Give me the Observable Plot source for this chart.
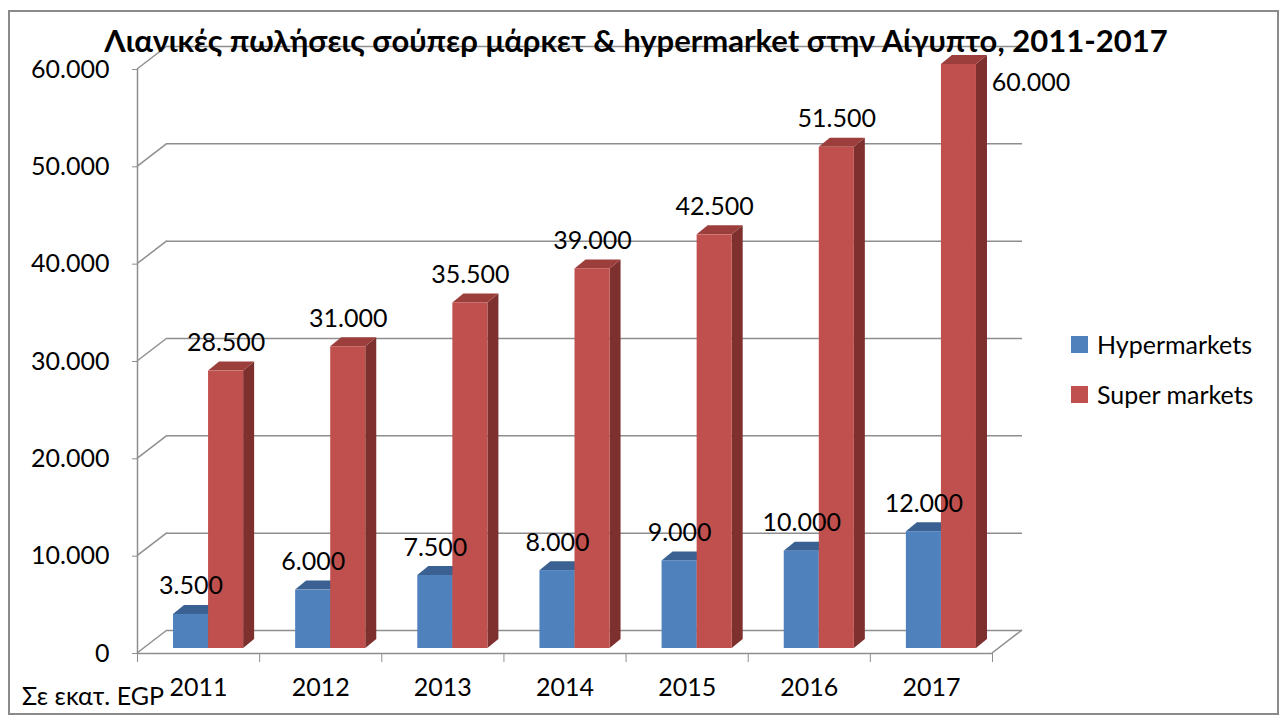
<!DOCTYPE html>
<html>
<head>
<meta charset="utf-8">
<script src="https://cdn.jsdelivr.net/npm/d3@7"></script>
<script src="https://cdn.jsdelivr.net/npm/@observablehq/plot@0.6"></script>
<style>
  body { margin: 0; background: #fff; }
  #wrap { position: relative; width: 1287px; height: 722px; font-family: Lato, "Noto Sans", sans-serif; color: #000; overflow: hidden; }
  #border { position: absolute; left: 8px; top: 10px; width: 1271px; height: 705px; border: 2px solid #8a8a8a; box-sizing: border-box; }
  #title { position: absolute; left: 0; width: 1272px; top: 21px; text-align: center; font-weight: bold; font-size: 31px; line-height: 38px; white-space: nowrap; }
  #plot { position: absolute; left: 0; top: 0; }
  #unit { position: absolute; left: 22px; top: 679px; font-size: 25px; line-height: 32px; white-space: nowrap; }
  #legend { position: absolute; left: 1071px; top: 328px; font-size: 25px; }
  .item { display: flex; align-items: center; height: 32px; margin-bottom: 18px; white-space: nowrap; }
  .sw { width: 17px; height: 17px; margin-right: 9px; }
</style>
</head>
<body>
<div id="wrap">
  <div id="plot"></div>
  <div id="border"></div>
  <div id="title"></div>
  <div id="unit"></div>
  <div id="legend"></div>
</div>
<script>
// ---- data ----
const title = "Λιανικές πωλήσεις σούπερ μάρκετ & hypermarket στην Αίγυπτο, 2011-2017";
const unitLabel = "Σε εκατ. EGP";
const years = [2011, 2012, 2013, 2014, 2015, 2016, 2017];
const seriesNames = ["Hypermarkets", "Super markets"];
const hypermarkets = [3500, 6000, 7500, 8000, 9000, 10000, 12000];
const supermarkets = [28500, 31000, 35500, 39000, 42500, 51500, 60000];
const yTicks = [0, 10000, 20000, 30000, 40000, 50000, 60000];

// ---- styles ----
const frontColors = ["#4F81BD", "#C0504D"];
const topColors = ["#3A6192", "#9C3F3C"];
const sideColors = ["#2E4D75", "#7D302E"];
const gridColor = "#8e8e8e";
const DX = 10, DY = -5;           // bar offset into the depth
const DEPTH_X = 11, DEPTH_Y = 9;  // bar depth faces
const WALL_X = 30, WALL_Y = -23;  // back wall offset
const BAR_W = 0.287;              // bar width (in bands)

const fmt = v => d3.format(",")(v).replace(/,/g, ".");

const rowsH = years.map((y, i) => ({year: y, series: seriesNames[0], value: hypermarkets[i]}));
const rowsS = years.map((y, i) => ({year: y, series: seriesNames[1], value: supermarkets[i]}));
const boundaries = [years[0] - 0.5, ...years.map(y => y + 0.5)];
const xMin = years[0] - 0.5, xMax = years[years.length - 1] + 0.5;

function faces(topFill, sideFill) {
  return (index, scales, values) => {
    const g = d3.create("svg:g");
    for (const i of index) {
      const xa = values.x1[i] + DX, xb = values.x2[i] + DX;
      const yt = Math.min(values.y1[i], values.y2[i]) + DY;
      const yb = Math.max(values.y1[i], values.y2[i]) + DY;
      if (sideFill) g.append("path").attr("fill", sideFill)
        .attr("d", `M${xb},${yt}L${xb + DEPTH_X},${yt - DEPTH_Y}L${xb + DEPTH_X},${yb - DEPTH_Y}L${xb},${yb}Z`);
      g.append("path").attr("fill", topFill)
        .attr("d", `M${xa},${yt}L${xa + DEPTH_X},${yt - DEPTH_Y}L${xb + DEPTH_X},${yt - DEPTH_Y}L${xb},${yt}Z`);
    }
    return g.node();
  };
}

function diagonals(index, scales, values) {
  const g = d3.create("svg:g").attr("stroke", gridColor).attr("stroke-width", 1.5);
  for (const i of index) {
    const x = values.x1[i], y = values.y[i];
    g.append("line").attr("x1", x).attr("y1", y).attr("x2", x + WALL_X).attr("y2", y + WALL_Y);
  }
  return g.node();
}

const chart = Plot.plot({
  width: 1287,
  height: 722,
  marginLeft: 137,
  marginRight: 295,
  marginTop: 69,
  marginBottom: 69,
  style: {fontFamily: "Lato, 'Noto Sans', sans-serif", fontSize: "25px", color: "#000", background: "transparent"},
  x: {domain: [xMin, xMax], axis: null},
  y: {domain: [0, 60000], axis: null},
  marks: [
    // back wall gridlines
    Plot.ruleY(yTicks, {y: d => d, x1: xMin, x2: xMax, dx: WALL_X, dy: WALL_Y, stroke: gridColor, strokeWidth: 1.5}),
    // side wall diagonals
    Plot.ruleY(yTicks, {y: d => d, x1: xMin, x2: xMin, render: diagonals}),
    // floor right diagonal
    Plot.ruleY([0], {y: d => d, x1: xMax, x2: xMax, render: diagonals}),
    // y axis line and front floor line
    Plot.ruleX([xMin], {y1: 0, y2: 60000, stroke: gridColor, strokeWidth: 1.5}),
    Plot.ruleY([0], {x1: xMin, x2: xMax, stroke: gridColor, strokeWidth: 1.5}),
    Plot.axisY(yTicks, {label: null, tickSize: 5, tickPadding: 23, tickFormat: fmt, stroke: gridColor, fill: "#000", fontSize: 25}),
    Plot.axisX(boundaries, {label: null, tickSize: 9, tickFormat: () => "", stroke: gridColor}),
    Plot.text(years, {x: d => d, frameAnchor: "bottom", dy: 42, text: d => String(d), fill: "#000", fontSize: 25}),
    // hypermarkets bars
    Plot.rect(rowsH, {x1: d => d.year - BAR_W, x2: d => d.year, y1: 0, y2: "value", render: faces(topColors[0], sideColors[0])}),
    Plot.rect(rowsH, {x1: d => d.year - BAR_W, x2: d => d.year, y1: 0, y2: "value", fill: frontColors[0], dx: DX, dy: DY}),
    // supermarkets bars
    Plot.rect(rowsS, {x1: d => d.year, x2: d => d.year + BAR_W, y1: 0, y2: "value", render: faces(topColors[1], sideColors[1])}),
    Plot.rect(rowsS, {x1: d => d.year, x2: d => d.year + BAR_W, y1: 0, y2: "value", fill: frontColors[1], dx: DX, dy: DY}),
    // labels
    Plot.text(rowsH, {x: d => d.year - BAR_W / 2, y: "value", text: d => fmt(d.value), dx: DX, dy: DY - 28, fill: "#000", fontSize: 25}),
    Plot.text(rowsS.slice(0, -1), {x: d => d.year + BAR_W / 2, y: "value", text: d => fmt(d.value), dx: DX, dy: DY - 28, fill: "#000", fontSize: 25}),
    Plot.text(rowsS.slice(-1), {x: d => d.year + BAR_W / 2, y: "value", text: d => fmt(d.value), dx: DX + 72, dy: DY + 18, fill: "#000", fontSize: 25})
  ]
});
document.getElementById("plot").appendChild(chart);
document.getElementById("title").textContent = title;
document.getElementById("unit").textContent = unitLabel;
const legend = document.getElementById("legend");
seriesNames.forEach((name, i) => {
  const item = document.createElement("div");
  item.className = "item";
  const sw = document.createElement("div");
  sw.className = "sw";
  sw.style.background = frontColors[i];
  const label = document.createElement("span");
  label.textContent = name;
  item.appendChild(sw);
  item.appendChild(label);
  legend.appendChild(item);
});
</script>
</body>
</html>
